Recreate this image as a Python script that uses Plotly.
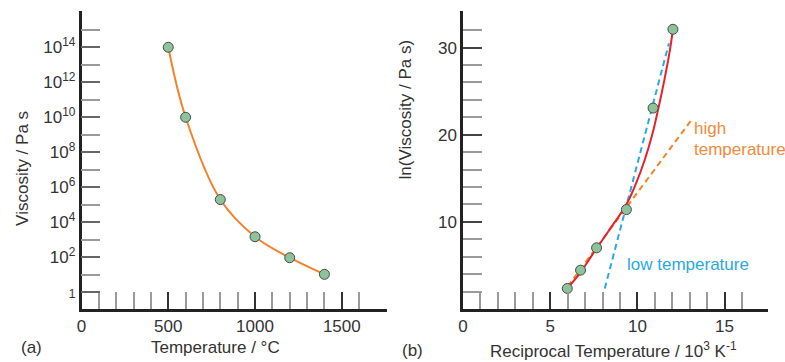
import plotly.graph_objects as go

# ---------------- data ----------------
# Panel (a): viscosity vs temperature
temps_c = [500, 600, 800, 1000, 1200, 1400]
viscosity = [1.0e14, 1.0e10, 2.0e5, 1.5e3, 95, 10.7]

# Panel (b): ln(viscosity) vs reciprocal temperature
recip_t = [5.98, 6.74, 7.66, 9.37, 10.9, 12.04]
ln_visc = [2.36, 4.46, 7.02, 11.41, 23.06, 32.1]

# red fitted curve
fit_x = [5.98, 6.74, 7.37, 8.33, 9.37, 9.9, 10.42, 10.85, 11.18, 11.55, 11.85, 12.04]
fit_y = [2.36, 4.2, 6.1, 8.9, 12.0, 14.3, 17.1, 20.0, 22.8, 26.3, 29.5, 32.1]

# asymptote lines
low_t_x = [8.13, 11.81]
low_t_y = [2.36, 30.5]
high_t_x = [6.0, 13.18]
high_t_y = [2.6, 21.9]

# ticks
xa_major = [0, 500, 1000, 1500]
xa_minor = [100, 200, 300, 400, 600, 700, 800, 900, 1100, 1200, 1300, 1400, 1600]
ya_major = [1, 1e2, 1e4, 1e6, 1e8, 1e10, 1e12, 1e14]
ya_major_text = ["<span style='font-size:12px'>1</span>", "10<sup>2</sup>", "10<sup>4</sup>",
                 "10<sup>6</sup>", "10<sup>8</sup>", "10<sup>10</sup>", "10<sup>12</sup>", "10<sup>14</sup>"]
ya_minor = [10, 1e3, 1e5, 1e7, 1e9, 1e11, 1e13, 1e15]

xb_major = [0, 5, 10, 15]
xb_minor = [1, 2, 3, 4, 6, 7, 8, 9, 11, 12, 13, 14, 16]
yb_major = [10, 20, 30]
yb_minor = [2, 4, 6, 8, 12, 14, 16, 18, 22, 24, 26, 28, 32]

# ---------------- style ----------------
W, H = 785, 362
FONT = "Liberation Sans, Arial, sans-serif"
TXT = "#333333"
ORANGE = "#F4822A"
RED = "#E8202A"
BLUE = "#29A9E1"
MFILL = "#8DC39B"
MLINE = "#4A4A4A"


def px_x(p):
    return p / W


def px_y(p):
    return 1 - p / H


fig = go.Figure()

# Panel (a)
fig.add_trace(go.Scatter(x=temps_c, y=viscosity, mode="lines",
                         line=dict(color=ORANGE, width=2, shape="spline", smoothing=1.0),
                         xaxis="x", yaxis="y", hoverinfo="skip"))
fig.add_trace(go.Scatter(x=temps_c, y=viscosity, mode="markers",
                         marker=dict(size=10, color=MFILL, line=dict(color=MLINE, width=1)),
                         xaxis="x", yaxis="y"))

# Panel (b)
fig.add_trace(go.Scatter(x=low_t_x, y=low_t_y, mode="lines",
                         line=dict(color=BLUE, width=2, dash="6px,4px"),
                         xaxis="x2", yaxis="y2", hoverinfo="skip"))
fig.add_trace(go.Scatter(x=high_t_x, y=high_t_y, mode="lines",
                         line=dict(color=ORANGE, width=2, dash="6px,4px"),
                         xaxis="x2", yaxis="y2", hoverinfo="skip"))
fig.add_trace(go.Scatter(x=fit_x, y=fit_y, mode="lines",
                         line=dict(color=RED, width=2, shape="spline", smoothing=1.0),
                         xaxis="x2", yaxis="y2", hoverinfo="skip"))
fig.add_trace(go.Scatter(x=recip_t, y=ln_visc, mode="markers",
                         marker=dict(size=10, color=MFILL, line=dict(color=MLINE, width=1)),
                         xaxis="x2", yaxis="y2"))

axis_common = dict(showgrid=False, zeroline=False, showline=True, linecolor="#222222",
                   linewidth=2.5, ticks="inside", tickmode="array",
                   tickfont=dict(family=FONT, size=17, color=TXT), fixedrange=True)

fig.update_layout(
    width=W, height=H,
    margin=dict(l=0, r=0, t=0, b=0),
    paper_bgcolor="white", plot_bgcolor="white",
    showlegend=False,
    font=dict(family=FONT, size=16, color=TXT),
    xaxis=dict(axis_common, domain=[px_x(77), px_x(384)], range=[0, 1758],
               tickvals=xa_major, ticktext=[str(v) for v in xa_major],
               ticklen=17, tickwidth=1.5, tickcolor="#333333",
               minor=dict(tickvals=xa_minor, ticks="inside", ticklen=17, tickwidth=1.5,
                          tickcolor="#9a9a9a", showgrid=False),
               anchor="y"),
    yaxis=dict(axis_common, type="log", domain=[px_y(309), px_y(11)], range=[-0.95, 16.07],
               tickvals=ya_major, ticktext=ya_major_text,
               ticklen=19, tickwidth=1.5, tickcolor="#666666",
               minor=dict(tickvals=ya_minor, ticks="inside", ticklen=19, tickwidth=1.5,
                          tickcolor="#9a9a9a", showgrid=False),
               anchor="x"),
    xaxis2=dict(axis_common, domain=[px_x(461), px_x(768)], range=[0, 17.5],
                tickvals=xb_major, ticktext=[str(v) for v in xb_major],
                ticklen=17, tickwidth=1.5, tickcolor="#333333",
                minor=dict(tickvals=xb_minor, ticks="inside", ticklen=17, tickwidth=1.5,
                           tickcolor="#9a9a9a", showgrid=False),
                anchor="y2"),
    yaxis2=dict(axis_common, domain=[px_y(309), px_y(11)], range=[0, 34.2],
                tickvals=yb_major, ticktext=[str(v) for v in yb_major],
                ticklen=19, tickwidth=1.5, tickcolor="#444444",
                minor=dict(tickvals=yb_minor, ticks="inside", ticklen=19, tickwidth=1.5,
                           tickcolor="#9a9a9a", showgrid=False),
                anchor="x2"),
)

annots = [
    dict(text="(a)", x=px_x(14), y=px_y(347), xanchor="left", yanchor="middle"),
    dict(text="Temperature / °C", x=px_x(212), y=px_y(347), xanchor="center", yanchor="middle"),
    dict(text="Viscosity / Pa s", x=px_x(18), y=px_y(168), xanchor="center", yanchor="middle",
         textangle=-90),
    dict(text="(b)", x=px_x(398), y=px_y(350), xanchor="left", yanchor="middle"),
    dict(text="Reciprocal Temperature / 10<sup>3</sup> K<sup>-1</sup>", x=px_x(612), y=px_y(350),
         xanchor="center", yanchor="middle"),
    dict(text="ln(Viscosity / Pa s)", x=px_x(403), y=px_y(109), xanchor="center", yanchor="middle",
         textangle=-90),
    dict(text="high", x=px_x(691), y=px_y(128), xanchor="left", yanchor="middle",
         font=dict(family=FONT, size=17, color="#F08A3C")),
    dict(text="temperature", x=px_x(691), y=px_y(150), xanchor="left", yanchor="middle",
         font=dict(family=FONT, size=17, color="#F08A3C")),
    dict(text="low temperature", x=px_x(624), y=px_y(264), xanchor="left", yanchor="middle",
         font=dict(family=FONT, size=17, color=BLUE)),
]
for a in annots:
    a.setdefault("font", dict(family=FONT, size=17, color=TXT))
    fig.add_annotation(xref="paper", yref="paper", showarrow=False, **a)

fig.write_html("out.html", config={"displayModeBar": False},
               post_script="document.body.style.margin='0';")
